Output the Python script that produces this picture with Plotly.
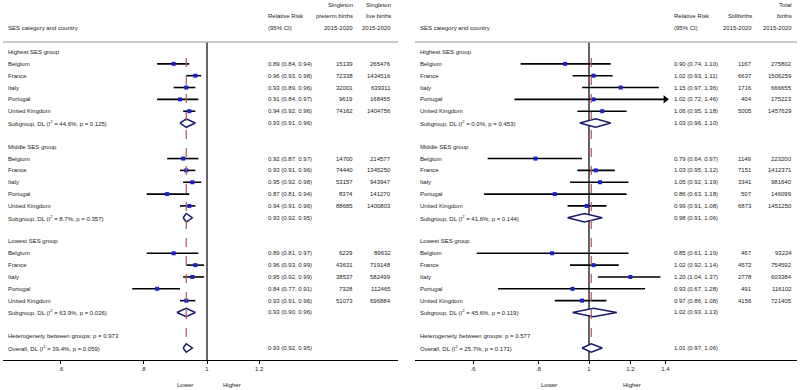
import math
import plotly.graph_objects as go

countries = ["Belgium", "France", "Italy", "Portugal", "United Kingdom"]
groups = ["Highest SES group", "Middle SES group", "Lowest SES group"]

# ---- Left panel: singleton preterm births ----
pt_rr = [[0.89, 0.96, 0.93, 0.91, 0.94], [0.92, 0.93, 0.95, 0.87, 0.94], [0.89, 0.96, 0.95, 0.84, 0.93]]
pt_lo = [[0.84, 0.93, 0.89, 0.84, 0.92], [0.87, 0.91, 0.92, 0.81, 0.91], [0.81, 0.93, 0.92, 0.77, 0.91]]
pt_hi = [[0.94, 0.98, 0.96, 0.97, 0.96], [0.97, 0.96, 0.98, 0.94, 0.96], [0.97, 0.99, 0.99, 0.91, 0.96]]
pt_events = [[15139, 72338, 32001, 9619, 74162], [14700, 74440, 53157, 8374, 88685], [6229, 43631, 38537, 7328, 51073]]
pt_total = [[265476, 1434516, 639311, 168455, 1404756], [214577, 1345250, 943947, 141270, 1400803],
            [89632, 719148, 582499, 112465, 696884]]
pt_sub = [(0.93, 0.91, 0.96), (0.93, 0.92, 0.95), (0.93, 0.90, 0.96)]
pt_sub_i2 = ["44.6%", "8.7%", "63.9%"]
pt_sub_p = ["0.125", "0.357", "0.026"]
pt_het_p = "0.973"
pt_overall = (0.93, 0.92, 0.95)
pt_overall_i2 = "39.4%"
pt_overall_p = "0.059"
pt_ticks = [0.6, 0.8, 1.0, 1.2]
pt_ticktext = [".6", ".8", "1", "1.2"]
pt_headers = [["Singleton", "Singleton"], ["preterm births", "live births"], ["2015-2020", "2015-2020"]]

# ---- Right panel: stillbirths ----
sb_rr = [[0.90, 1.02, 1.15, 1.02, 1.06], [0.79, 1.03, 1.05, 0.86, 0.99], [0.85, 1.02, 1.20, 0.93, 0.97]]
sb_lo = [[0.74, 0.93, 0.97, 0.72, 0.95], [0.64, 0.95, 0.92, 0.63, 0.91], [0.61, 0.92, 1.04, 0.67, 0.86]]
sb_hi = [[1.10, 1.11, 1.36, 1.46, 1.18], [0.97, 1.12, 1.19, 1.18, 1.08], [1.19, 1.14, 1.37, 1.28, 1.08]]
sb_events = [[1167, 6637, 1716, 404, 5005], [1149, 7151, 3341, 507, 6873], [467, 4572, 2778, 491, 4156]]
sb_total = [[275802, 1506259, 666655, 175223, 1457629], [223200, 1412371, 981640, 146099, 1451250],
            [93224, 754592, 603384, 116102, 721405]]
sb_sub = [(1.03, 0.96, 1.10), (0.98, 0.91, 1.06), (1.02, 0.93, 1.13)]
sb_sub_i2 = ["0.0%", "41.6%", "45.6%"]
sb_sub_p = ["0.453", "0.144", "0.119"]
sb_het_p = "0.577"
sb_overall = (1.01, 0.97, 1.06)
sb_overall_i2 = "25.7%"
sb_overall_p = "0.171"
sb_ticks = [0.6, 0.8, 1.0, 1.2, 1.4]
sb_ticktext = [".6", ".8", "1", "1.2", "1.4"]
sb_headers = [["", "Total"], ["Stillbirths", "births"], ["2015-2020", "2015-2020"]]

W, H = 800, 390
BOTTOM = 30
PLOT_H = H - BOTTOM
ROW0_PX, ROW_STEP = 52.0, 11.84
Y_TOP = -ROW0_PX / ROW_STEP
Y_BOT = (PLOT_H - ROW0_PX) / ROW_STEP
TOPLINE = (42 - ROW0_PX) / ROW_STEP

FONT = "Liberation Sans, Arial, sans-serif"
FS = 6
TXT = "#222222"
BLUE = "#1f1fd0"
NAVY = "#1b1b6b"
RED = "#b05a5a"

fig = go.Figure()
annotations = []
shapes = []


def ann(px, row, text, anchor="left", yref="y"):
    if not text:
        return
    annotations.append(dict(x=px / W, xref="paper", y=row, yref=yref, text=text, showarrow=False,
                            xanchor=anchor, yanchor="middle", font=dict(family=FONT, size=FS, color=TXT)))


def panel(idx, px0, px1, one_px, scale, rr, lo, hi, ev, tot, sub, sub_i2, sub_p, het_p, ov, ov_i2, ov_p,
          ticks, ticktext, headers, label_x, rr_x, c1_x, c2_x, lower_x, higher_x):
    xa = "x" if idx == 1 else "x2"
    ya = "y" if idx == 1 else "y2"
    lo_ln = (px0 - one_px) / scale
    hi_ln = (px1 - one_px) / scale
    clip_hi = max(ticks)

    # headers
    ann(c1_x, -4, headers[0][0], "right", ya)
    ann(c2_x, -4, headers[0][1], "right", ya)
    ann(rr_x, -3, "Relative Risk", "left", ya)
    ann(c1_x, -3, headers[1][0], "right", ya)
    ann(c2_x, -3, headers[1][1], "right", ya)
    ann(label_x, -2, "SES category and country", "left", ya)
    ann(rr_x, -2, "(95% CI)", "left", ya)
    ann(c1_x, -2, headers[2][0], "right", ya)
    ann(c2_x, -2, headers[2][1], "right", ya)

    cx, cy, mx, my = [], [], [], []
    arrow_x, arrow_y = [], []
    for g in range(3):
        base = 8 * g
        ann(label_x, base, groups[g], "left", ya)
        for i, c in enumerate(countries):
            r = base + 1 + i
            ann(label_x, r, c, "left", ya)
            ann(rr_x, r, f"{rr[g][i]:.2f} ({lo[g][i]:.2f}, {hi[g][i]:.2f})", "left", ya)
            ann(c1_x, r, str(ev[g][i]), "right", ya)
            ann(c2_x, r, str(tot[g][i]), "right", ya)
            h = hi[g][i]
            if h > clip_hi:
                h = clip_hi
                arrow_x.append(clip_hi)
                arrow_y.append(r)
            cx += [lo[g][i], h, None]
            cy += [r, r, None]
            mx.append(rr[g][i])
            my.append(r)
        r = base + 6
        ann(label_x, r, f"Subgroup, DL (I<sup>2</sup> = {sub_i2[g]}, p = {sub_p[g]})", "left", ya)
        e, l, u = sub[g]
        ann(rr_x, r, f"{e:.2f} ({l:.2f}, {u:.2f})", "left", ya)
        fig.add_trace(go.Scatter(x=[l, e, u, e, l], y=[r, r - 0.36, r, r + 0.36, r], mode="lines",
                                 fill="toself", fillcolor="white", line=dict(color=NAVY, width=1.5),
                                 xaxis=xa, yaxis=ya, hoverinfo="skip", showlegend=False))

    ann(label_x, 24, f"Heterogeneity between groups: p = {het_p}", "left", ya)
    ann(label_x, 25, f"Overall, DL (I<sup>2</sup> = {ov_i2}, p = {ov_p})", "left", ya)
    e, l, u = ov
    ann(rr_x, 25, f"{e:.2f} ({l:.2f}, {u:.2f})", "left", ya)

    # reference lines
    shapes.append(dict(type="line", xref=xa, yref=ya, x0=1, x1=1, y0=TOPLINE, y1=Y_BOT,
                       line=dict(color="#111111", width=1.3), layer="below"))
    shapes.append(dict(type="line", xref=xa + " domain", yref=ya, x0=0, x1=1, y0=TOPLINE, y1=TOPLINE,
                       line=dict(color="#b8b8b8", width=1.5)))

    fig.add_trace(go.Scatter(x=cx, y=cy, mode="lines", line=dict(color="black", width=1.6),
                             xaxis=xa, yaxis=ya, hoverinfo="skip", showlegend=False))
    if arrow_x:
        fig.add_trace(go.Scatter(x=arrow_x, y=arrow_y, mode="markers",
                                 marker=dict(symbol="triangle-right", size=7, color="black"),
                                 xaxis=xa, yaxis=ya, hoverinfo="skip", showlegend=False))
    fig.add_trace(go.Scatter(x=mx, y=my, mode="markers",
                             marker=dict(symbol="square", size=4, color=BLUE, line=dict(width=0)),
                             xaxis=xa, yaxis=ya, hoverinfo="skip", showlegend=False))
    # overall dashed line
    fig.add_trace(go.Scatter(x=[e, e], y=[0.5, 25 - 0.36], mode="lines",
                             line=dict(color=RED, width=1.2, dash="dash"),
                             xaxis=xa, yaxis=ya, hoverinfo="skip", showlegend=False))
    fig.add_trace(go.Scatter(x=[l, e, u, e, l], y=[25, 25 - 0.36, 25, 25 + 0.36, 25], mode="lines",
                             fill="toself", fillcolor="white", line=dict(color=NAVY, width=1.5),
                             xaxis=xa, yaxis=ya, hoverinfo="skip", showlegend=False))

    annotations.append(dict(x=lower_x / W, xref="paper", y=-(385 - PLOT_H) / PLOT_H, yref="paper",
                            text="Lower", showarrow=False, xanchor="center", yanchor="middle",
                            font=dict(family=FONT, size=FS, color=TXT)))
    annotations.append(dict(x=higher_x / W, xref="paper", y=-(385 - PLOT_H) / PLOT_H, yref="paper",
                            text="Higher", showarrow=False, xanchor="center", yanchor="middle",
                            font=dict(family=FONT, size=FS, color=TXT)))

    axis = dict(type="log", domain=[px0 / W, px1 / W], range=[lo_ln / math.log(10), hi_ln / math.log(10)],
                tickvals=ticks, ticktext=ticktext, ticks="outside", ticklen=3, tickcolor="black",
                showline=True, linecolor="black", linewidth=1, showgrid=False, zeroline=False,
                tickfont=dict(family=FONT, size=FS, color=TXT), anchor=ya, fixedrange=True)
    yax = dict(range=[Y_BOT, Y_TOP], domain=[0, 1], visible=False, showgrid=False, zeroline=False,
               anchor=xa, fixedrange=True)
    if idx == 1:
        fig.update_layout(xaxis=axis, yaxis=yax)
    else:
        fig.update_layout(xaxis2=axis, yaxis2=yax)


panel(1, 3, 398, 207, 286, pt_rr, pt_lo, pt_hi, pt_events, pt_total, pt_sub, pt_sub_i2, pt_sub_p, pt_het_p,
      pt_overall, pt_overall_i2, pt_overall_p, pt_ticks, pt_ticktext, pt_headers,
      6, 266, 355, 393, 185, 232)
panel(2, 415, 797, 589, 227, sb_rr, sb_lo, sb_hi, sb_events, sb_total, sb_sub, sb_sub_i2, sb_sub_p, sb_het_p,
      sb_overall, sb_overall_i2, sb_overall_p, sb_ticks, sb_ticktext, sb_headers,
      418, 672, 754, 794, 549, 632)

fig.update_layout(width=W, height=H, margin=dict(l=0, r=0, t=0, b=BOTTOM), paper_bgcolor="white",
                  plot_bgcolor="white", showlegend=False, annotations=annotations, shapes=shapes)
fig.write_html("out.html", config={"displayModeBar": False},
               post_script="document.body.style.margin='0';document.body.style.overflow='hidden';")
